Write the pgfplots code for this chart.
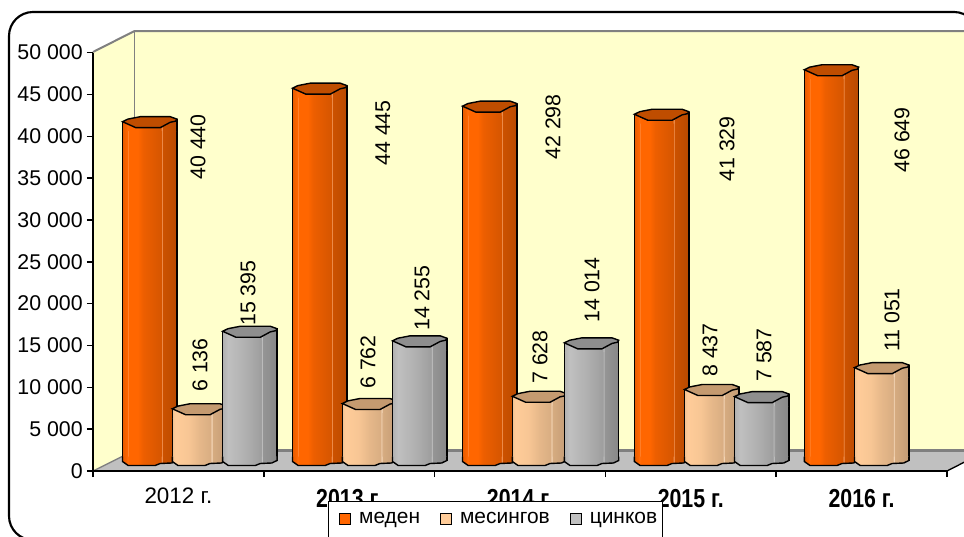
\documentclass[border=0pt]{standalone}
\usepackage{pgfplots}
\pgfplotsset{compat=1.18}
\usepackage{fontspec}
\setmainfont{Liberation Sans}
\definecolor{wall}{HTML}{FFFFCC}
\definecolor{floorc}{HTML}{C0C0C0}
\definecolor{edgec}{HTML}{808080}
\definecolor{cu}{HTML}{FF6600}
\definecolor{br}{HTML}{FFCC99}
\definecolor{zn}{HTML}{C0C0C0}
\definecolor{cutop}{HTML}{BF4D00}
\definecolor{brtop}{HTML}{C49A70}
\definecolor{zntop}{HTML}{8E8E8E}
\pgfdeclarehorizontalshading{cushade}{100bp}{
 color(0bp)=(cu!90!black); color(25bp)=(cu!90!black); color(29.5bp)=(cu); color(30bp)=(cu!80!white); color(30.6bp)=(cu);
 color(39bp)=(cu); color(44bp)=(cu!93!black); color(56.5bp)=(cu!86!black); color(60.5bp)=(cu!84!black);
 color(61bp)=(cu!55!white); color(61.8bp)=(cu!80!black); color(69bp)=(cu!76!black); color(75bp)=(cu!72!black); color(100bp)=(cu!72!black)}
\pgfdeclarehorizontalshading{brshade}{100bp}{
 color(0bp)=(br); color(25bp)=(br!95!black); color(28bp)=(br); color(40bp)=(br!97!black); color(50bp)=(br!90!black);
 color(60.5bp)=(br!85!black); color(61bp)=(br!50!white); color(61.8bp)=(br!84!black); color(69bp)=(br!80!black); color(75bp)=(br!76!black); color(100bp)=(br!76!black)}
\pgfdeclarehorizontalshading{znshade}{100bp}{
 color(0bp)=(zn); color(25bp)=(zn!92!black); color(30bp)=(zn); color(45bp)=(zn!92!black); color(55bp)=(zn!86!black);
 color(60.5bp)=(zn!82!black); color(61bp)=(zn!80!white); color(61.8bp)=(zn!78!black); color(69bp)=(zn!74!black); color(75bp)=(zn!70!black); color(100bp)=(zn!70!black)}
\newcommand\PP[2]{\pgfpoint{#1*0.75pt}{#2*-0.75pt}}
\newcommand\defmarks[3]{%
 \pgfdeclareplotmark{#1top}{%
  \pgfsetlinewidth{1.05pt}\pgfsetstrokecolor{black}\pgfsetcolor{black}%
  \pgfscope
  \pgfpathmoveto{\PP{-27.2}{9}}\pgfpathlineto{\PP{-27.2}{-0.4}}\pgfpathlineto{\PP{27.2}{-3}}\pgfpathlineto{\PP{27.2}{9}}\pgfpathclose
  \pgfshadepath{#2}{0}%
  \pgfusepath{discard}%
  \endpgfscope
  \pgfpathmoveto{\PP{-27.2}{9}}\pgfpathlineto{\PP{-27.2}{-0.4}}%
  \pgfpathmoveto{\PP{27.2}{9}}\pgfpathlineto{\PP{27.2}{-3}}\pgfusepath{stroke}%
  \pgfsetfillcolor{#3}%
  \pgfpathmoveto{\PP{-27.2}{-0.4}}\pgfpathlineto{\PP{-21.8}{-3}}\pgfpathlineto{\PP{-9.5}{-5.4}}%
  \pgfpathlineto{\PP{20.5}{-5.4}}\pgfpathlineto{\PP{27.2}{-3}}\pgfpathlineto{\PP{26}{-1}}%
  \pgfpathlineto{\PP{20.5}{0.2}}\pgfpathlineto{\PP{10.5}{5.6}}\pgfpathlineto{\PP{-13.8}{5.6}}\pgfpathclose
  \pgfusepath{fill,stroke}%
 }%
 \pgfdeclareplotmark{#1bot}{%
  \pgfsetlinewidth{1.05pt}\pgfsetstrokecolor{black}%
  \pgfscope
  \pgfpathmoveto{\PP{-27.2}{-4}}\pgfpathlineto{\PP{-27.2}{1}}\pgfpathlineto{\PP{-21.5}{5}}\pgfpathlineto{\PP{5.5}{5}}%
  \pgfpathlineto{\PP{10.5}{3}}\pgfpathlineto{\PP{22}{2.5}}\pgfpathlineto{\PP{27.2}{0}}\pgfpathlineto{\PP{27.2}{-4}}\pgfpathclose
  \pgfshadepath{#2}{0}%
  \pgfusepath{discard}%
  \endpgfscope
  \pgfpathmoveto{\PP{-27.2}{-4}}\pgfpathlineto{\PP{-27.2}{1}}\pgfpathlineto{\PP{-21.5}{5}}\pgfpathlineto{\PP{5.5}{5}}%
  \pgfpathlineto{\PP{10.5}{3}}\pgfpathlineto{\PP{22}{2.5}}\pgfpathlineto{\PP{27.2}{0}}\pgfpathlineto{\PP{27.2}{-4}}\pgfusepath{stroke}%
 }}
\defmarks{cu}{cushade}{cutop}
\defmarks{br}{brshade}{brtop}
\defmarks{zn}{znshade}{zntop}
\newcommand\onebar[3]{%
 \addplot[ybar,bar shift=0pt,bar width=40.8pt,draw=black,line width=1.05pt,shading=#3shade,forget plot] coordinates {(#1,#2)};
 \addplot[only marks,mark=#3bot,forget plot] coordinates {(#1,0)};
 \addplot[only marks,mark=#3top,forget plot] coordinates {(#1,#2)};
}
\pgfplotsset{pxaxis/.style={scale only axis,width=723pt,height=402pt,xmin=0,xmax=964,ymin=0,ymax=536,y dir=reverse,hide axis,clip=false,at={(0pt,0pt)},anchor=south west},
 baraxis/.style={scale only axis,width=723pt,height=313.8pt,at={(0pt,56.625pt)},anchor=south west,xmin=0,xmax=964,ymin=0,ymax=50000,hide axis,clip=false}}
\newcommand\tf{\fontsize{16}{19}\selectfont}
\newcommand\lf{\fontsize{15.7}{19}\selectfont}
\newcommand\bl[1]{\raisebox{-2.5pt}{\scalebox{0.82}[1]{\fontsize{19.5}{21}\selectfont\bfseries #1}}}
\begin{document}
\begin{tikzpicture}[x=1pt,y=1pt]
\clip[use as bounding box] (0,0) rectangle (723,402);
\fill[white] (0,0) rectangle (723,402);
\draw[line width=1.6pt,rounded corners=18pt] (40,-3) -- (6.75,-3) -- (6.75,393) -- (733.5,393) -- (733.5,300);
\begin{axis}[pxaxis]
\addplot[fill=wall,draw=none] coordinates {(93,52) (135,31) (135,449) (93,471)};
\addplot[fill=wall,draw=none] coordinates {(135,31) (995,31) (995,449) (135,449)};
\addplot[fill=floorc,draw=none] coordinates {(93,471) (135,450) (990,450) (947,471)};
\addplot[edgec,line width=1.5pt] coordinates {(93,52) (134.5,31) (995,31)};
\addplot[edgec,line width=1.3pt] coordinates {(134.5,31) (134.5,449)};
\addplot[edgec,line width=2pt] coordinates {(135,450.5) (995,450.5)};
\addplot[edgec,line width=1pt] coordinates {(93,471) (135,450)};
\addplot[black,line width=1pt] coordinates {(947,471) (990,449)};
\end{axis}
\begin{axis}[scale only axis,width=640.5pt,height=313.8pt,at={(69.75pt,48.75pt)},anchor=south west,
 xmin=0,xmax=5,ymin=0,ymax=50000,axis x line*=bottom,axis y line*=left,
 axis line style={-,line width=1.1pt},tick align=outside,major tick length=4.5pt,
 tick style={black,line width=1.1pt},
 scaled y ticks=false,
 xtick={0,1,2,3,4,5},xticklabels={},
 extra x ticks={0.5,1.5,2.5,3.5,4.5},
 extra x tick labels={\fontsize{16.8}{19}\selectfont 2012 г.,\bl{2013 г.},\bl{2014 г.},\bl{2015 г.},\bl{2016 г.}},
 extra x tick style={major tick length=0pt,tick style={draw=none},xticklabel style={anchor=base,yshift=-24.7pt,inner sep=0pt}},
 ytick={0,5000,10000,15000,20000,25000,30000,35000,40000,45000,50000},
 yticklabel style={font=\tf,anchor=east,inner sep=0pt,xshift=-3pt},
 xticklabel style={font=\tf},
 /pgf/number format/.cd,1000 sep={\ },assume math mode=true]
\end{axis}
\begin{axis}[baraxis]
\onebar{149.7}{40440}{cu}
\onebar{319.7}{44445}{cu}
\onebar{489.7}{42298}{cu}
\onebar{661.6}{41329}{cu}
\onebar{831.5}{46649}{cu}
\end{axis}
\begin{axis}[baraxis]
\onebar{199.5}{6136}{br}
\onebar{369.5}{6762}{br}
\onebar{539.5}{7628}{br}
\onebar{711.7}{8437}{br}
\onebar{881.7}{11051}{br}
\end{axis}
\begin{axis}[baraxis]
\onebar{249.8}{15395}{zn}
\onebar{419.7}{14255}{zn}
\onebar{591.5}{14014}{zn}
\onebar{761.7}{7587}{zn}
\end{axis}
\begin{axis}[pxaxis,
 legend style={at={(axis cs:327.7,501)},anchor=north west,draw=black,line width=1.1pt,fill=white,
  inner xsep=4pt,inner ysep=8pt,font=\lf,nodes={inner sep=0pt},
  /tikz/every odd column/.append style={column sep=6pt},
  /tikz/every even column/.append style={column sep=11pt}},
 legend columns=3,
 legend image code/.code={\path (0pt,0pt);\draw[#1,draw=black,line width=0.9pt] (4pt,-4pt) rectangle (12pt,4pt);}]
\addplot[draw=none,mark=none,forget plot,point meta=explicit,
 nodes near coords={\pgfmathprintnumber[1000 sep={\ },assume math mode=true]{\pgfplotspointmeta}},
 nodes near coords style={rotate=90,anchor=center,inner sep=0pt,font=\tf,text=black}]
 coordinates {(198,147)[40440] (383,133)[44445] (553,127)[42298] (727,149)[41329] (902,140)[46649]
 (200,365)[6136] (368,362)[6762] (540,357)[7628] (710,350)[8437] (892,320)[11051]
 (248,293)[15395] (422,298)[14255] (592,290)[14014] (764,355)[7587]};
\addlegendimage{fill=cu}\addlegendentry{меден}
\addlegendimage{fill=br}\addlegendentry{месингов}
\addlegendimage{fill=zn}\addlegendentry{цинков}
\addlegendimage{legend image code/.code={}}\addlegendentry{\rule{0pt}{12pt}}
\end{axis}
\end{tikzpicture}
\end{document}
